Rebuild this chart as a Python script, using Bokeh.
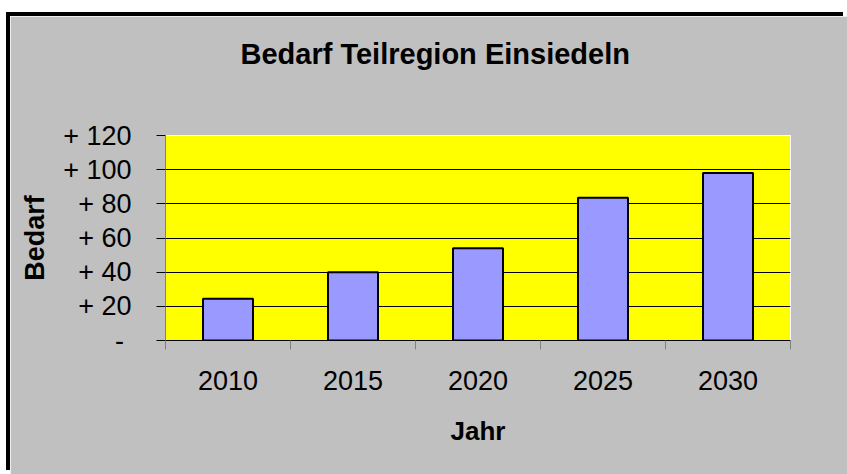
from bokeh.plotting import figure
from bokeh.models import Range1d, FixedTicker
from bokeh.embed import file_html
from bokeh.resources import INLINE

years = ["2010", "2015", "2020", "2025", "2030"]
bedarf = [24.5, 40, 54, 83.5, 98]
y_ticks = [0, 20, 40, 60, 80, 100, 120]
y_tick_labels = ["-\u00a0", "+ 20", "+ 40", "+ 60", "+ 80", "+ 100", "+ 120"]

FONT = "Liberation Sans"
GRAY = "#C0C0C0"

x_centers = [i + 0.5 for i in range(len(years))]
x_bounds = [float(i) for i in range(len(years) + 1)]

p = figure(width=837, height=458, output_backend="svg", toolbar_location=None,
           x_range=Range1d(0, len(years)), y_range=Range1d(0, 120),
           min_border_left=155, min_border_right=57, min_border_top=119, min_border_bottom=134,
           title="Bedarf Teilregion Einsiedeln")
p.styles = {"position": "relative", "top": "16px", "left": "10px",
            "box-shadow": "-4px -4px 0px 0px black"}

p.background_fill_color = "#FFFF00"
p.border_fill_color = GRAY
p.outline_line_color = "white"
p.outline_line_width = 1

p.vbar(x=x_centers, top=bedarf, width=0.4, fill_color="#9999FF",
       line_color="black", line_width=2)

# title
p.title.text_font = FONT
p.title.text_font_size = "29px"
p.title.text_font_style = "bold"
p.title.text_color = "black"
p.title.align = "left"
p.title.offset = 75
p.title.standoff = 0
p.title.padding = dict(left=0, right=0, top=0, bottom=66)

# grids
p.xgrid.grid_line_color = None
p.ygrid.grid_line_color = "black"
p.ygrid.grid_line_width = 1
p.ygrid.ticker = FixedTicker(ticks=y_ticks)

# y axis
ya = p.yaxis[0]
ya.ticker = FixedTicker(ticks=y_ticks)
ya.major_label_overrides = {t: lab for t, lab in zip(y_ticks, y_tick_labels)}
ya.axis_line_color = "#808080"
ya.major_tick_line_color = "black"
ya.major_tick_out = 9
ya.major_tick_in = 0
ya.minor_tick_line_color = None
ya.major_label_standoff = 25
ya.major_label_text_font = FONT
ya.major_label_text_font_size = "27px"
ya.major_label_text_color = "black"
ya.axis_label = "Bedarf"
ya.axis_label_text_font = FONT
ya.axis_label_text_font_size = "27px"
ya.axis_label_text_font_style = "bold"
ya.axis_label_text_color = "black"
ya.axis_label_standoff = 10

# x axis
xa = p.xaxis[0]
xa.ticker = FixedTicker(ticks=x_centers, minor_ticks=x_bounds)
xa.major_label_overrides = {c: y for c, y in zip(x_centers, years)}
xa.axis_line_color = "black"
xa.axis_line_width = 1
xa.major_tick_out = 0
xa.major_tick_in = 0
xa.minor_tick_out = 9
xa.minor_tick_in = 0
xa.minor_tick_line_color = "#808080"
xa.major_label_standoff = 21
xa.major_label_text_font = FONT
xa.major_label_text_font_size = "27px"
xa.major_label_text_color = "black"
xa.axis_label = "Jahr"
xa.axis_label_text_font = FONT
xa.axis_label_text_font_size = "26px"
xa.axis_label_text_font_style = "bold"
xa.axis_label_text_color = "black"
xa.axis_label_standoff = 23

open("out.html", "w").write(file_html(p, INLINE))
